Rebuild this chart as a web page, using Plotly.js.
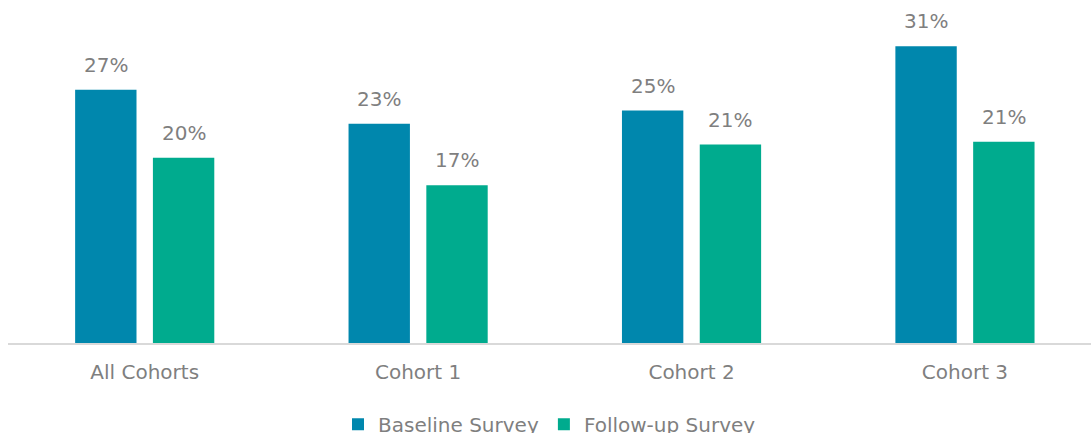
<!DOCTYPE html>
<html>
<head>
<meta charset="utf-8">
<script src="https://cdn.plot.ly/plotly-3.0.1.min.js"></script>
<style>
  html, body { margin: 0; padding: 0; background: #ffffff; }
  #chart { width: 1091px; height: 433px; }
</style>
</head>
<body>
<div id="chart"></div>
<script>
// ---- data ----
const categories = ['All Cohorts', 'Cohort 1', 'Cohort 2', 'Cohort 3'];
const baselineValues = [26.8, 23.2, 24.6, 31.4];
const followupValues = [19.6, 16.7, 21.0, 21.3];
const seriesNames = ['Baseline Survey', 'Follow-up Survey'];

// ---- style ----
const FONT = 'DejaVu Sans, sans-serif';
const GREY = '#7f7f7f';
const COLORS = ['#0087AD', '#00AB8E'];
const BARGAP = 0.431;
const BARGROUPGAP = 0.211;

const traces = [
  { type: 'bar', name: seriesNames[0], x: categories, y: baselineValues,
    marker: { color: COLORS[0] }, hoverinfo: 'skip' },
  { type: 'bar', name: seriesNames[1], x: categories, y: followupValues,
    marker: { color: COLORS[1] }, hoverinfo: 'skip' }
];

// value labels placed above each bar through the data axes
const slot = (1 - BARGAP) / 2;
const annotations = [];
[baselineValues, followupValues].forEach((vals, s) => {
  const off = (s === 0 ? -1 : 1) * slot / 2;
  vals.forEach((v, i) => {
    annotations.push({
      x: i + off, y: v, xref: 'x', yref: 'y',
      text: Math.round(v) + '%', showarrow: false,
      yanchor: 'bottom', yshift: 11,
      font: { family: FONT, size: 20, color: GREY }
    });
  });
});

const layout = {
  width: 1091, height: 433,
  margin: { l: 8, r: 0, t: 0, b: 90, autoexpand: false },
  paper_bgcolor: '#ffffff', plot_bgcolor: '#ffffff',
  barmode: 'group', bargap: BARGAP, bargroupgap: BARGROUPGAP,
  font: { family: FONT, size: 20, color: GREY },
  xaxis: {
    type: 'category', range: [-0.5, 3.461],
    showline: true, linecolor: '#d9d9d9', linewidth: 1.5,
    ticks: '', showgrid: false, zeroline: false,
    tickfont: { family: FONT, size: 20, color: GREY },
    ticklabelstandoff: 10
  },
  yaxis: {
    range: [0, 36.3], showticklabels: false, showgrid: false,
    zeroline: false, showline: false, ticks: ''
  },
  showlegend: true,
  legend: {
    orientation: 'h', x: 0.5, xanchor: 'center', y: -0.18, yanchor: 'top',
    font: { family: FONT, size: 20, color: GREY },
    traceorder: 'normal'
  },
  annotations: annotations
};

Plotly.newPlot('chart', traces, layout, { displayModeBar: false, staticPlot: true });
</script>
</body>
</html>
